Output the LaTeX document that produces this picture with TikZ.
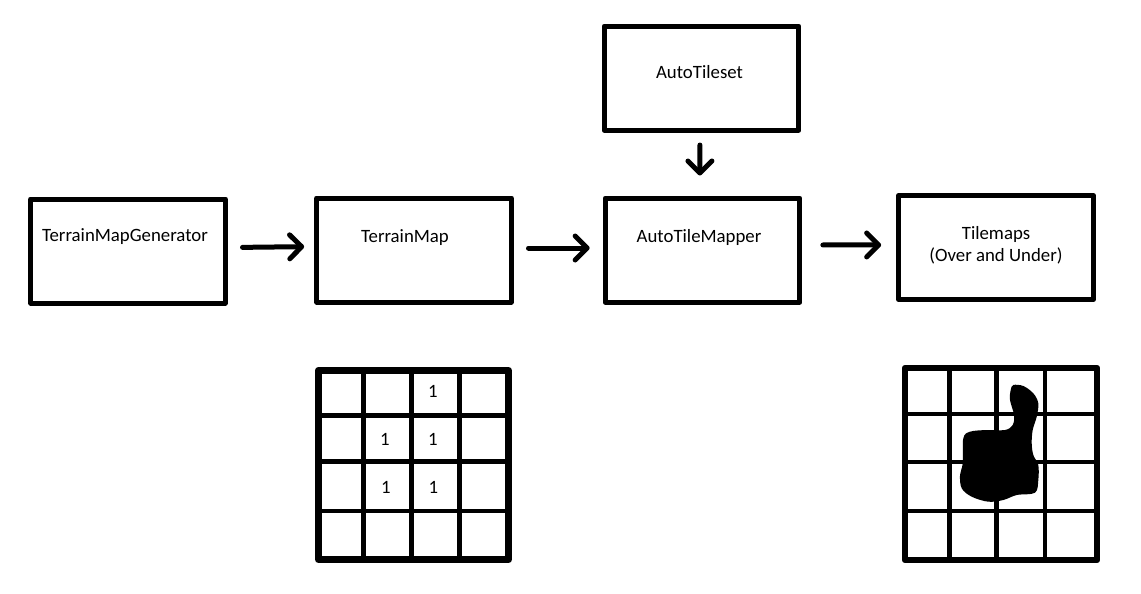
\documentclass[tikz,border=0pt]{standalone}
\usepackage{fontspec}
\setmainfont{Carlito}
\usetikzlibrary{arrows.meta}
\usetikzlibrary{positioning}

\begin{document}
\begin{tikzpicture}[x=0.75pt,y=-0.75pt,line join=round,
  box/.style={rectangle,draw,line width=3.75pt,minimum width=146pt,minimum height=78pt},
  txt/.style={font=\fontsize{14.1}{16.5}\selectfont,text height=0.64em,text depth=0pt,inner sep=0pt},
  flow/.style={line width=3.75pt,line cap=round,-{Straight Barb[length=9pt,width=18pt,round]}},
  frame/.style={line width=4.9pt},
  cell/.style={line width=3.4pt},
  num/.style={font=\fontsize{14.1}{16}\selectfont,inner sep=0pt}]
  \useasboundingbox (0,0) rectangle (1141,593);
  % the pipeline
  \node[box,label={[txt,name=genlbl,xshift=-2.25pt,yshift=10.5pt]center:TerrainMapGenerator}] (gen) at (128,251) {};
  \node[box,label={[txt,name=maplbl,xshift=-6.75pt,yshift=8.5pt]center:TerrainMap}] (map) at (414,250) {};
  \node[box,label={[txt,name=mapperlbl,xshift=-2.6pt,yshift=9pt]center:AutoTileMapper}] (mapper) at (702.5,250) {};
  \node[box,label={[txt,name=tilesetlbl,xshift=-1.5pt,yshift=2.6pt]center:AutoTileset}] (tileset) at (701.5,78) {};
  \node[box,label={[font=\fontsize{14.1}{16.5}\selectfont,align=center,name=tileslbl,yshift=1.5pt]center:Tilemaps\\ (Over and Under)}] (tiles) at (996,247.5) {};

  \path[flow,shorten <=11pt,shorten >=7.5pt] ([yshift=2.6pt]gen.east) edge ([yshift=2.6pt]map.west);
  \path[flow,shorten <=11pt,shorten >=9.75pt] ([yshift=1.5pt]map.east) edge ([yshift=1.5pt]mapper.west);
  \path[flow,shorten <=15.4pt,shorten >=11.25pt] ([yshift=3.75pt]mapper.east) edge ([yshift=1.9pt]tiles.west);
  \path[flow,shorten <=9.4pt,shorten >=15pt] ([xshift=-1.2pt]tileset.south) edge ([xshift=-1.9pt]mapper.north);

  % terrain map grid
  \foreach \x in {363.7,411.7,459.5} \draw[cell] (\x,370) -- (\x,560);
  \foreach \y in {415.3,461.7,511} \draw[cell] (318,\y) -- (509,\y);
  \draw[frame] (318.3,370.3) rectangle (508.7,559.7);
  \node[num] (t02) at (433,391.5) {1};
  \node[num] (t11) at (385,439.5) {1};
  \node[num] (t12) at (433,439.5) {1};
  \node[num] (t21) at (386,487) {1};
  \node[num] (t22) at (433.5,487) {1};

  % tilemap grid with the painted area
  \foreach \x in {949.5,996.7,1045} \draw[cell] (\x,368) -- (\x,560);
  \foreach \y in {414,462,511} \draw[cell] (905,\y) -- (1097,\y);
  \draw[frame] (905,368) rectangle (1097,560);
  \fill plot[smooth cycle,tension=0.55] coordinates {(1013.3,385) (1023.3,386) (1033.3,393.3) (1038.3,403.3)
    (1036.7,416.7) (1032.7,430) (1031.7,443.3) (1033.3,455) (1038.3,465) (1038.3,480) (1035,492.7)
    (1016.7,495) (1003.3,500) (988.3,501.7) (971.7,496.7) (961.7,488.3) (960,475) (962.7,463.3)
    (963.3,438.3) (970,431.7) (986.7,430) (1005,430) (1012.7,425) (1014,415) (1010,400) (1010.7,390)};
\end{tikzpicture}
\end{document}
